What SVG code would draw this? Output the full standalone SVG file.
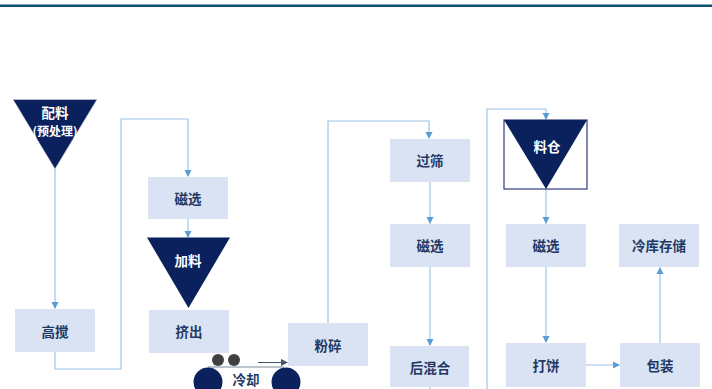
<svg xmlns="http://www.w3.org/2000/svg" width="712" height="389" viewBox="0 0 712 389">
<defs>
<marker id="arr" markerWidth="8" markerHeight="8" refX="6" refY="4" orient="auto" markerUnits="userSpaceOnUse">
<path d="M0,0.5 L7,4 L0,7.5 Z" fill="#5b9bd5"/>
</marker>
<marker id="arrg" markerWidth="8" markerHeight="8" refX="6" refY="4" orient="auto" markerUnits="userSpaceOnUse">
<path d="M0,0.5 L7,4 L0,7.5 Z" fill="#44546a"/>
</marker>
<style>
.box{fill:#dae3f3;}
.t{font-family:"Noto Sans CJK SC","Liberation Sans",sans-serif;font-size:13.5px;font-weight:bold;fill:#1f3864;text-anchor:middle;dominant-baseline:central;}
.tw{font-family:"Noto Sans CJK SC","Liberation Sans",sans-serif;font-size:13.5px;font-weight:bold;fill:#ffffff;text-anchor:middle;dominant-baseline:central;}
.tri{fill:#0b215e;}
.c{fill:none;stroke:#9dc3e6;stroke-width:1.2;}
.ca{fill:none;stroke:#9dc3e6;stroke-width:1.2;marker-end:url(#arr);}
</style>
</defs>
<rect x="0" y="4.5" width="712" height="2.5" fill="#0d4e74"/>

<g id="connectors">
<path class="ca" d="M55,169 V308"/>
<path class="ca" d="M55,352 V369 H121 V119 H188 V176"/>
<path class="ca" d="M188,219 V237"/>
<path class="ca" d="M328,323 V121 H429 V138"/>
<path class="ca" d="M430,182 V223"/>
<path class="ca" d="M430,267 V345"/>
<path class="c" d="M430,387 V389"/>
<path class="ca" d="M487,389 V109 H546 V119"/>
<path class="ca" d="M546,189 V223"/>
<path class="ca" d="M546,267 V342"/>
<path class="ca" d="M586,365 H619"/>
<path class="ca" d="M660,343 V268"/>
<path fill="none" stroke="#44546a" stroke-width="1" marker-end="url(#arrg)" d="M258,362.5 H287"/>
</g>

<g id="peiliao">
<path class="tri" d="M13,99.5 H97 L55,169 Z" stroke="#c9d3e3" stroke-width="0.6"/>
<text class="tw" x="55" y="112">配料</text>
<text class="tw" x="55" y="130" style="font-size:12px">(预处理)</text>
</g>
<g id="gaojiao">
<rect class="box" x="15" y="309" width="80" height="43"/>
<text class="t" x="55" y="331">高搅</text>
</g>
<g id="cixuan1">
<rect class="box" x="148" y="177" width="80" height="42"/>
<text class="t" x="188" y="198">磁选</text>
</g>
<g id="jialiao">
<path class="tri" d="M147,237.5 H230 L188.5,308 Z"/>
<text class="tw" x="188" y="260">加料</text>
</g>
<g id="jichu">
<rect class="box" x="149" y="310" width="80" height="43"/>
<text class="t" x="189" y="331">挤出</text>
</g>
<g id="lengque">
<line x1="208" y1="367" x2="284" y2="367" stroke="#7f8a99" stroke-width="1"/>
<circle cx="218" cy="360" r="6" fill="#404040"/>
<circle cx="234" cy="360" r="6" fill="#404040"/>
<circle cx="208" cy="382" r="14.5" fill="#0b215e"/>
<circle cx="286" cy="382" r="14.5" fill="#0b215e"/>
<text class="t" x="246" y="379">冷却</text>
</g>
<g id="fensui">
<rect class="box" x="288" y="323" width="80" height="43"/>
<text class="t" x="328" y="345">粉碎</text>
</g>
<g id="guoshai">
<rect class="box" x="390" y="139" width="80" height="43"/>
<text class="t" x="430" y="160">过筛</text>
</g>
<g id="cixuan2">
<rect class="box" x="390" y="224" width="80" height="43"/>
<text class="t" x="430" y="245">磁选</text>
</g>
<g id="houhunhe">
<rect class="box" x="390" y="346" width="79" height="41"/>
<text class="t" x="430" y="367">后混合</text>
</g>
<g id="liaocang">
<rect x="504" y="120" width="83" height="69" fill="#ffffff" stroke="#2f3f7a" stroke-width="1.2"/>
<path class="tri" d="M504,120 H587 L546,189 Z"/>
<text class="tw" x="547" y="146">料仓</text>
</g>
<g id="cixuan3">
<rect class="box" x="506" y="224" width="80" height="43"/>
<text class="t" x="546" y="245">磁选</text>
</g>
<g id="dabing">
<rect class="box" x="506" y="343" width="80" height="44"/>
<text class="t" x="546" y="365">打饼</text>
</g>
<g id="baozhuang">
<rect class="box" x="620" y="343" width="80" height="44"/>
<text class="t" x="660" y="365">包装</text>
</g>
<g id="lengku">
<rect class="box" x="619" y="224" width="80" height="43"/>
<text class="t" x="659" y="245">冷库存储</text>
</g>
</svg>
